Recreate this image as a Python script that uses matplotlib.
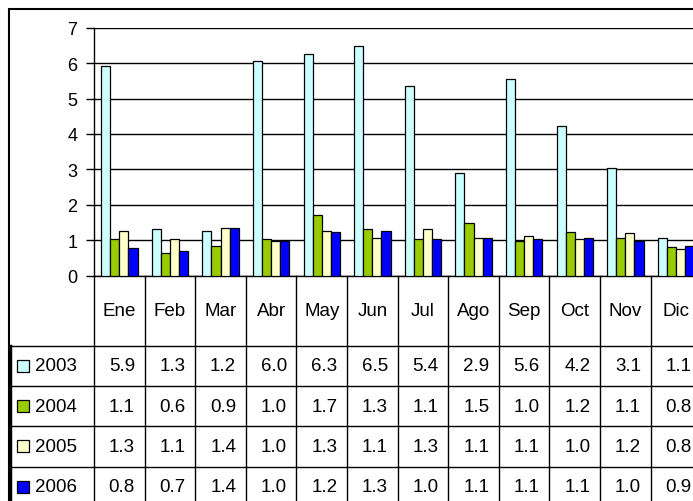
import numpy as np
import matplotlib.pyplot as plt
import matplotlib.transforms as mtransforms
from matplotlib.patches import Rectangle
from matplotlib.lines import Line2D

plt.rcParams['font.family'] = ['Liberation Sans', 'DejaVu Sans']

months = ["Ene", "Feb", "Mar", "Abr", "May", "Jun", "Jul", "Ago", "Sep", "Oct", "Nov", "Dic"]
years = ["2003", "2004", "2005", "2006"]

# bar heights
v2003 = [5.91, 1.31, 1.25, 6.05, 6.27, 6.49, 5.36, 2.89, 5.56, 4.23, 3.05, 1.07]
v2004 = [1.03, 0.63, 0.85, 1.03, 1.70, 1.31, 1.03, 1.48, 0.99, 1.22, 1.07, 0.80]
v2005 = [1.25, 1.03, 1.35, 0.99, 1.25, 1.07, 1.31, 1.07, 1.13, 1.03, 1.21, 0.76]
v2006 = [0.77, 0.71, 1.35, 0.99, 1.22, 1.25, 1.03, 1.07, 1.03, 1.07, 0.99, 0.85]

# values as printed in the data table
t2003 = ["5.9", "1.3", "1.2", "6.0", "6.3", "6.5", "5.4", "2.9", "5.6", "4.2", "3.1", "1.1"]
t2004 = ["1.1", "0.6", "0.9", "1.0", "1.7", "1.3", "1.1", "1.5", "1.0", "1.2", "1.1", "0.8"]
t2005 = ["1.3", "1.1", "1.4", "1.0", "1.3", "1.1", "1.3", "1.1", "1.1", "1.0", "1.2", "0.8"]
t2006 = ["0.8", "0.7", "1.4", "1.0", "1.2", "1.3", "1.0", "1.1", "1.1", "1.1", "1.0", "0.9"]

colors = ["#CCFFFF", "#99CC00", "#FFFFCC", "#0000FF"]

W, H = 693, 502
fig = plt.figure(figsize=(W / 100, H / 100), dpi=100)
fig.patch.set_facecolor("white")

# plot area in pixels (right side runs past the figure edge, as in the original)
ax_left, ax_right, ax_top, ax_bottom = 94, 701.3, 28.7, 276.7
ax = fig.add_axes([ax_left / W, (H - ax_bottom) / H,
                   (ax_right - ax_left) / W, (ax_bottom - ax_top) / H])
ax.set_xlim(-0.5, 11.5)
ax.set_ylim(0, 7)

x = np.arange(len(months))
bw = 0.18
series = [v2003, v2004, v2005, v2006]
for k, vals in enumerate(series):
    ax.bar(x + (k - 1.5) * bw, vals, width=bw, color=colors[k],
           edgecolor="black", linewidth=0.9, zorder=3)

ax.set_yticks(range(8))
ax.yaxis.grid(True, color="black", linewidth=1.0, zorder=0)
ax.set_axisbelow(True)
ax.set_xticks([])
for s in ["top", "right"]:
    ax.spines[s].set_visible(False)
ax.spines["left"].set_linewidth(1.0)
ax.spines["bottom"].set_linewidth(1.0)
ax.tick_params(axis="y", length=6, width=1.0, direction="out", pad=6,
               labelsize=13)

# data table below the plot
ax_h = ax_bottom - ax_top
ax_w = ax_right - ax_left
header_h = 70 / ax_h
row_h = 40.3 / ax_h
blend = mtransforms.blended_transform_factory(ax.transData, ax.transAxes)
bottom_y = -(header_h + 4 * row_h)

# vertical column separators
for b in np.arange(-0.5, 12.0, 1.0):
    ax.add_line(Line2D([b, b], [0, bottom_y], transform=blend, color="black",
                       linewidth=1.0, clip_on=False))

# horizontal row separators
label_left = (11 - ax_left) / ax_w
for r in range(4):
    yy = -(header_h + r * row_h)
    ax.add_line(Line2D([label_left, 1.0], [yy, yy], transform=ax.transAxes,
                       color="black", linewidth=1.0, clip_on=False))

# month headers
for i, m in enumerate(months):
    ax.text(i, -header_h / 2, m, transform=blend, ha="center", va="center",
            fontsize=13.5)

# rows: legend key, year, values
tables = [t2003, t2004, t2005, t2006]
key = 12
for r, (yr, vals) in enumerate(zip(years, tables)):
    yc = -(header_h + (r + 0.5) * row_h)
    ax.add_patch(Rectangle(((17 - ax_left) / ax_w, yc - key / 2 / ax_h),
                           key / ax_w, key / ax_h, transform=ax.transAxes,
                           facecolor=colors[r], edgecolor="black",
                           linewidth=0.9, clip_on=False))
    ax.text((35 - ax_left) / ax_w, yc, yr, transform=ax.transAxes,
            ha="left", va="center", fontsize=13.5)
    for i, s in enumerate(vals):
        ax.text(i + 0.31, yc, s, transform=blend, ha="right", va="center",
                fontsize=13.5)

# outer chart border
fig.patches.append(Rectangle((9 / W, -0.1), 2.0, (H - 10) / H + 0.1,
                             transform=fig.transFigure, fill=False,
                             edgecolor="black", linewidth=1.5))
# heavier left edge next to the row labels
fig.lines.append(Line2D([10 / W, 10 / W], [0, (H - 346.7) / H],
                        transform=fig.transFigure, color="black", linewidth=2.5))

fig.savefig("out.png", dpi=100)
